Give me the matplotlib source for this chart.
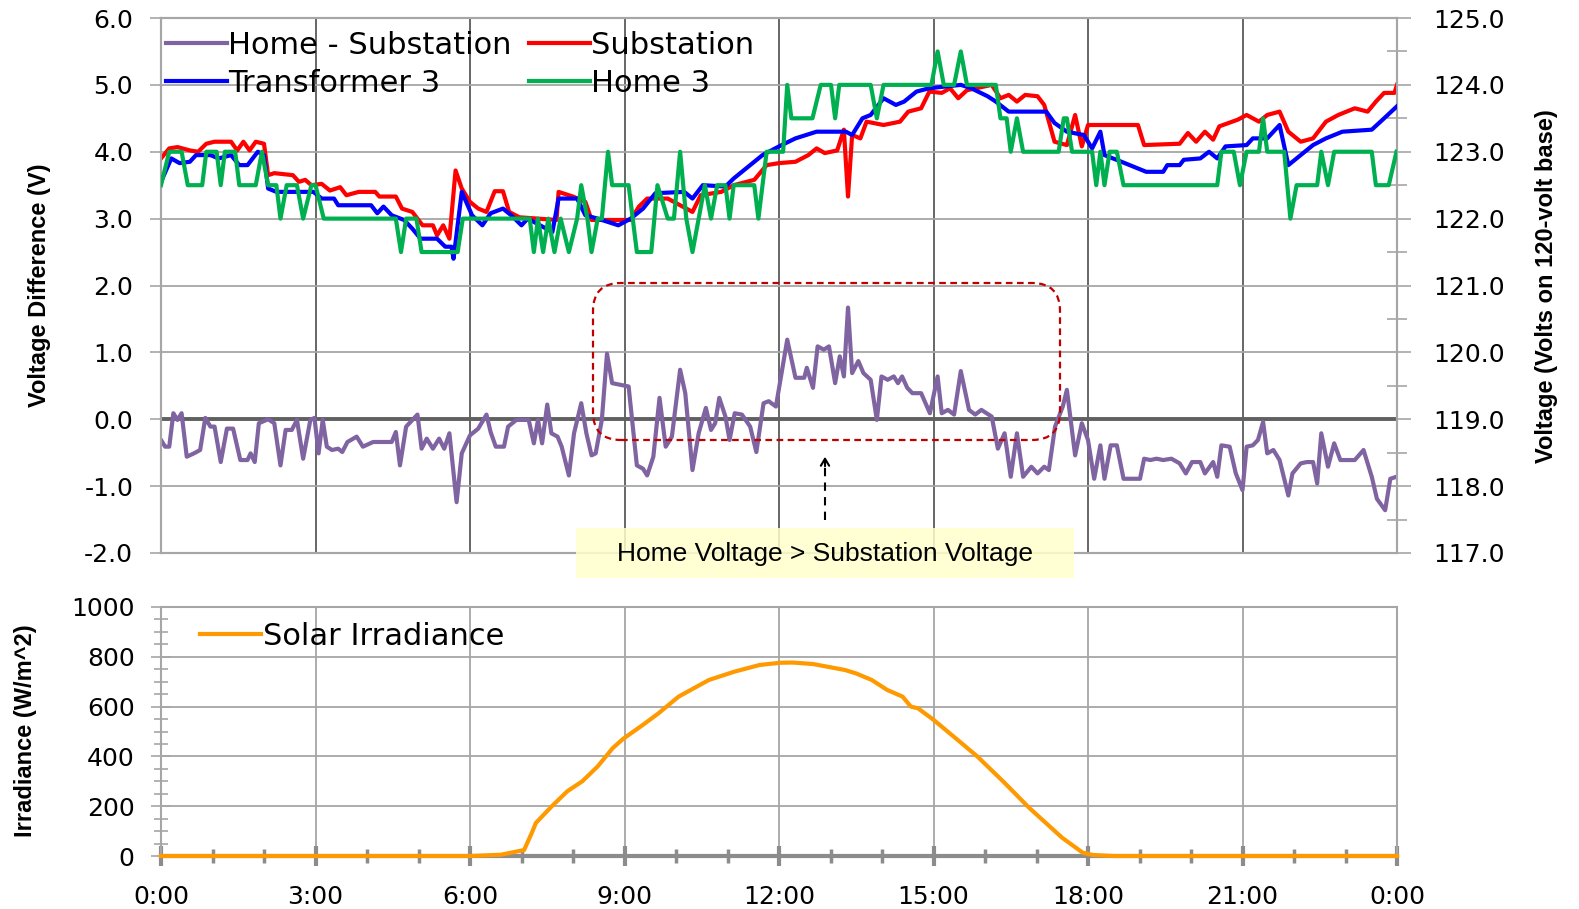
import matplotlib
matplotlib.use("Agg")
import matplotlib.pyplot as plt
from matplotlib.patches import FancyBboxPatch, FancyArrowPatch, Rectangle
from matplotlib.lines import Line2D
from matplotlib.ticker import MultipleLocator, FormatStrFormatter

# ---- data (hours since midnight) ----
sub_t = [0, 0.16, 0.32, 0.56, 0.72, 0.88, 1.04, 1.36, 1.48, 1.6, 1.72, 1.84, 2.0, 2.08, 2.2, 2.56,
         2.68, 2.8, 2.92, 3.12, 3.28, 3.48, 3.6, 3.84, 4.16, 4.24, 4.56, 4.68, 4.88, 5.08, 5.28,
         5.36, 5.48, 5.6, 5.72, 5.84, 6.0, 6.16, 6.32, 6.48, 6.64, 6.76, 6.96, 7.68, 7.72, 8.0,
         8.24, 8.36, 9.12, 9.28, 9.44, 9.84, 10.32, 10.48, 10.88, 11.12, 11.52, 11.76, 12.0,
         12.32, 12.57, 12.73, 12.89, 13.13, 13.26, 13.34, 13.42, 13.58, 13.7, 14.03, 14.35,
         14.51, 14.76, 14.92, 15.16, 15.32, 15.48, 15.65, 16.13, 16.3, 16.46, 16.62, 16.78,
         17.02, 17.15, 17.35, 17.59, 17.75, 17.88, 18.0, 18.97, 19.09, 19.78, 19.94, 20.1,
         20.27, 20.43, 20.55, 20.91, 21.08, 21.32, 21.48, 21.72, 21.89, 22.13, 22.37, 22.62,
         22.86, 23.18, 23.43, 23.59, 23.75, 23.95, 24.0]
sub_v = [122.9, 123.05, 123.07, 123.02, 123.0, 123.12, 123.15, 123.15, 123.02, 123.15, 123.02,
         123.15, 123.12, 122.65, 122.68, 122.65, 122.55, 122.58, 122.5, 122.52, 122.42, 122.47,
         122.35, 122.4, 122.4, 122.33, 122.33, 122.15, 122.1, 121.9, 121.9, 121.75, 121.9, 121.7,
         122.72, 122.45, 122.25, 122.15, 122.1, 122.41, 122.41, 122.1, 122.02, 121.98, 122.4,
         122.33, 122.25, 121.98, 121.98, 122.18, 122.3, 122.3, 122.1, 122.35, 122.4, 122.5,
         122.58, 122.8, 122.83, 122.85, 122.95, 123.05, 122.98, 123.02, 123.33, 122.33, 123.25,
         123.2, 123.45, 123.4, 123.45, 123.6, 123.65, 123.9, 123.88, 123.95, 123.8, 123.92,
         124.0, 123.8, 123.85, 123.75, 123.85, 123.83, 123.7, 123.15, 123.1, 123.55, 123.08,
         123.4, 123.4, 123.1, 123.12, 123.28, 123.15, 123.3, 123.18, 123.38, 123.48, 123.55,
         123.45, 123.55, 123.6, 123.3, 123.15, 123.2, 123.45, 123.55, 123.65, 123.6, 123.75,
         123.88, 123.88, 124.0]

tr_t = [0, 0.2, 0.36, 0.56, 0.68, 0.96, 1.12, 1.36, 1.52, 1.68, 1.88, 2.0, 2.08, 2.24, 2.96, 3.12,
        3.36, 3.44, 4.08, 4.2, 4.32, 4.48, 4.72, 4.88, 5.04, 5.36, 5.52, 5.64, 5.68, 5.84, 6.04,
        6.24, 6.4, 6.64, 6.8, 7.0, 7.12, 7.6, 7.72, 8.08, 8.24, 8.48, 8.88, 9.12, 9.36, 9.6,
        10.16, 10.32, 10.52, 10.96, 11.12, 11.36, 11.68, 12.0, 12.32, 12.73, 13.3, 13.42, 13.62,
        13.78, 14.03, 14.27, 14.43, 14.67, 14.92, 15.53, 15.73, 16.05, 16.21, 16.46, 17.19,
        17.35, 17.59, 17.92, 18.08, 18.24, 18.32, 18.65, 18.81, 19.13, 19.46, 19.54, 19.78,
        19.86, 20.18, 20.35, 20.51, 20.67, 21.08, 21.2, 21.48, 21.72, 21.89, 22.13, 22.37,
        22.62, 22.94, 23.51, 23.75, 24.0]
tr_v = [122.55, 122.9, 122.83, 122.85, 122.95, 122.95, 122.9, 122.95, 122.8, 122.8, 123.0, 122.95,
        122.45, 122.4, 122.4, 122.3, 122.3, 122.2, 122.2, 122.08, 122.18, 122.05, 121.98, 121.85,
        121.7, 121.7, 121.58, 121.58, 121.4, 122.4, 122.05, 121.9, 122.08, 122.15, 122.05, 121.9,
        122.0, 121.8, 122.3, 122.3, 122.05, 122.0, 121.9, 122.0, 122.15, 122.38, 122.4, 122.3,
        122.5, 122.48, 122.6, 122.75, 122.95, 123.08, 123.2, 123.3, 123.3, 123.25, 123.5,
        123.55, 123.8, 123.7, 123.75, 123.9, 123.95, 124.0, 123.95, 123.83, 123.75, 123.6,
        123.6, 123.43, 123.3, 123.25, 123.05, 123.3, 122.95, 122.85, 122.8, 122.7, 122.7, 122.8,
        122.8, 122.88, 122.9, 123.0, 122.9, 123.08, 123.1, 123.2, 123.2, 123.4, 122.8, 122.95,
        123.1, 123.2, 123.3, 123.33, 123.5, 123.68]

home_t = [0, 0.16, 0.4, 0.52, 0.8, 0.88, 1.08, 1.16, 1.24, 1.44, 1.52, 1.84, 1.96, 2.08, 2.24,
          2.32, 2.44, 2.64, 2.76, 2.92, 3.0, 3.16, 3.24, 4.56, 4.66, 4.76, 4.96, 5.06, 5.76,
          5.86, 7.16, 7.24, 7.32, 7.42, 7.52, 7.64, 7.76, 7.92, 8.08, 8.16, 8.28, 8.36, 8.48,
          8.56, 8.68, 8.76, 9.08, 9.24, 9.52, 9.64, 9.84, 9.96, 10.08, 10.2, 10.32, 10.56,
          10.68, 10.8, 10.96, 11.04, 11.12, 11.52, 11.6, 11.76, 12.08, 12.16, 12.24, 12.65,
          12.81, 13.01, 13.09, 13.17, 13.78, 13.9, 14.03, 14.96, 15.08, 15.2, 15.4, 15.53,
          15.65, 16.21, 16.3, 16.42, 16.5, 16.62, 16.74, 17.43, 17.53, 17.59, 17.69, 18.08,
          18.16, 18.24, 18.32, 18.42, 18.56, 18.69, 20.51, 20.59, 20.83, 20.95, 21.08, 21.32,
          21.4, 21.48, 21.81, 21.93, 22.05, 22.45, 22.53, 22.66, 22.78, 23.51, 23.59, 23.84,
          23.99]
home_v = [122.5, 123.0, 123.0, 122.5, 122.5, 123.0, 123.0, 122.5, 123.0, 123.0, 122.5, 122.5,
          123.0, 122.5, 122.5, 122.0, 122.5, 122.5, 122.0, 122.5, 122.5, 122.0, 122.0, 122.0,
          121.5, 122.0, 122.0, 121.5, 121.5, 122.0, 122.0, 121.5, 122.0, 121.5, 122.0, 121.5,
          122.0, 121.5, 122.0, 122.5, 122.0, 121.5, 122.0, 122.0, 123.0, 122.5, 122.5, 121.5,
          121.5, 122.5, 122.0, 122.0, 123.0, 122.0, 121.5, 122.5, 122.0, 122.5, 122.5, 122.0,
          122.5, 122.5, 122.0, 123.0, 123.0, 124.0, 123.5, 123.5, 124.0, 124.0, 123.5, 124.0,
          124.0, 123.5, 124.0, 124.0, 124.5, 124.0, 124.0, 124.5, 124.0, 124.0, 123.5, 123.5,
          123.0, 123.5, 123.0, 123.0, 123.5, 123.5, 123.0, 123.0, 122.5, 123.0, 122.5, 123.0,
          123.0, 122.5, 122.5, 123.0, 123.0, 122.5, 123.0, 123.0, 123.5, 123.0, 123.0, 122.0,
          122.5, 122.5, 123.0, 122.5, 123.0, 123.0, 122.5, 122.5, 123.0]

diff_t = [0, 0.08, 0.16, 0.24, 0.32, 0.4, 0.5, 0.64, 0.76, 0.86, 0.96, 1.04, 1.16, 1.28, 1.4,
          1.54, 1.68, 1.74, 1.82, 1.9, 2.08, 2.2, 2.32, 2.42, 2.54, 2.64, 2.76, 2.9, 2.98, 3.06,
          3.14, 3.22, 3.32, 3.44, 3.52, 3.62, 3.8, 3.92, 4.12, 4.48, 4.56, 4.64, 4.76, 4.98,
          5.06, 5.16, 5.28, 5.4, 5.5, 5.6, 5.74, 5.84, 6.0, 6.16, 6.32, 6.4, 6.5, 6.66, 6.74,
          6.9, 7.14, 7.24, 7.32, 7.4, 7.5, 7.58, 7.7, 7.78, 7.92, 8.02, 8.16, 8.26, 8.36, 8.44,
          8.56, 8.66, 8.76, 9.08, 9.24, 9.36, 9.44, 9.56, 9.68, 9.8, 9.92, 10.08, 10.18, 10.32,
          10.44, 10.58, 10.68, 10.76, 10.84, 10.96, 11.04, 11.14, 11.28, 11.44, 11.56, 11.7,
          11.8, 11.94, 12.16, 12.32, 12.49, 12.54, 12.66, 12.75, 12.87, 12.97, 13.09, 13.18,
          13.26, 13.34, 13.42, 13.54, 13.64, 13.78, 13.9, 13.99, 14.11, 14.23, 14.31, 14.39,
          14.49, 14.59, 14.76, 14.93, 15.08, 15.16, 15.28, 15.4, 15.53, 15.69, 15.81, 15.93,
          16.13, 16.25, 16.38, 16.5, 16.62, 16.74, 16.9, 17.02, 17.15, 17.24, 17.36, 17.51,
          17.59, 17.75, 17.88, 18.0, 18.12, 18.24, 18.32, 18.44, 18.56, 18.69, 19.01, 19.09,
          19.21, 19.33, 19.46, 19.62, 19.78, 19.9, 20.02, 20.18, 20.27, 20.43, 20.51, 20.59,
          20.75, 20.87, 21.0, 21.08, 21.2, 21.3, 21.4, 21.48, 21.6, 21.72, 21.89, 21.97, 22.13,
          22.25, 22.37, 22.45, 22.53, 22.66, 22.78, 22.9, 23.18, 23.35, 23.51, 23.61, 23.77,
          23.87, 23.99]
diff_v = [-0.31, -0.41, -0.41, 0.09, -0.01, 0.09, -0.56, -0.51, -0.46, 0.02, -0.11, -0.11, -0.64,
          -0.14, -0.14, -0.61, -0.61, -0.51, -0.64, -0.06, 0.0, -0.06, -0.69, -0.16, -0.16, -0.01,
          -0.59, -0.01, 0.02, -0.51, -0.01, -0.41, -0.46, -0.44, -0.49, -0.34, -0.26, -0.41,
          -0.34, -0.34, -0.19, -0.69, -0.11, 0.07, -0.44, -0.29, -0.44, -0.29, -0.44, -0.21,
          -1.24, -0.51, -0.24, -0.14, 0.07, -0.19, -0.41, -0.41, -0.11, -0.01, -0.01, -0.36,
          -0.01, -0.36, 0.22, -0.21, -0.26, -0.41, -0.84, -0.21, 0.24, -0.21, -0.54, -0.51,
          -0.01, 0.98, 0.54, 0.49, -0.69, -0.74, -0.84, -0.56, 0.32, -0.41, -0.26, 0.74, 0.39,
          -0.76, -0.21, 0.17, -0.16, -0.06, 0.32, 0.04, -0.31, 0.09, 0.07, -0.11, -0.49, 0.24,
          0.27, 0.19, 1.19, 0.62, 0.62, 0.77, 0.47, 1.09, 1.04, 1.09, 0.54, 0.94, 0.64, 1.67,
          0.69, 0.87, 0.69, 0.59, -0.01, 0.64, 0.59, 0.64, 0.54, 0.64, 0.47, 0.39, 0.39, 0.09,
          0.64, 0.09, 0.14, 0.07, 0.72, 0.14, 0.07, 0.14, 0.04, -0.44, -0.21, -0.86, -0.21,
          -0.86, -0.71, -0.81, -0.71, -0.76, -0.11, 0.19, 0.44, -0.54, -0.06, -0.31, -0.89,
          -0.39, -0.89, -0.39, -0.39, -0.89, -0.89, -0.59, -0.61, -0.59, -0.61, -0.59, -0.66,
          -0.81, -0.64, -0.64, -0.81, -0.64, -0.86, -0.39, -0.41, -0.81, -1.06, -0.41, -0.39,
          -0.31, -0.04, -0.51, -0.46, -0.61, -1.14, -0.81, -0.66, -0.64, -0.64, -0.96, -0.21,
          -0.71, -0.36, -0.61, -0.61, -0.46, -0.86, -1.19, -1.36, -0.89, -0.86]

sun_t = [0, 6.0, 6.6, 7.05, 7.2, 7.28, 7.59, 7.89, 8.18, 8.48, 8.77, 8.97, 9.36, 9.66, 10.05,
         10.64, 11.13, 11.62, 12.02, 12.26, 12.66, 13.28, 13.5, 13.8, 14.1, 14.4, 14.56, 14.7,
         15.0, 15.43, 15.85, 16.35, 16.86, 17.5, 17.9, 18.1, 18.5, 24.0]
sun_v = [0, 0, 5, 24, 93, 133, 200, 260, 300, 360, 433, 470, 527, 573, 640, 707, 740, 767, 776,
         777, 771, 747, 733, 707, 667, 640, 600, 593, 547, 473, 400, 300, 193, 73, 13, 4, 0, 0]

hour_ticks = list(range(0, 25, 3))
hour_labels = ["0:00", "3:00", "6:00", "9:00", "12:00", "15:00", "18:00", "21:00", "0:00"]

# ---- figure ----
W, H = 1579, 909
fig = plt.figure(figsize=(W / 100, H / 100), dpi=100)

tick_font = "DejaVu Sans"
lab_font = ["Liberation Sans", "DejaVu Sans"]
light = "#a6a6a6"
dark = "#5a5a5a"
tsize = 18
lw = 3.0

ax = fig.add_axes([161 / W, 1 - 553 / H, 1236 / W, 535 / H])
ax2 = ax.twinx()
axs = fig.add_axes([161 / W, 1 - 856 / H, 1236 / W, 249 / H])

# top panel
ax.set_xlim(0, 24)
ax.set_ylim(-2, 6)
ax2.set_ylim(117, 125)
ax.set_xticks(hour_ticks)
ax.tick_params(axis="x", length=0, labelbottom=False)
ax.yaxis.set_major_locator(MultipleLocator(1))
ax.yaxis.set_major_formatter(FormatStrFormatter("%.1f"))
ax2.yaxis.set_major_locator(MultipleLocator(1))
ax2.yaxis.set_minor_locator(MultipleLocator(0.5))
ax2.yaxis.set_major_formatter(FormatStrFormatter("%.1f"))
ax.tick_params(axis="y", direction="out", length=8, width=1.2, color=light, pad=12,
               labelsize=tsize)
ax2.tick_params(axis="y", which="major", direction="out", length=10, width=1.2, color=light,
                pad=16, labelsize=tsize)
ax2.tick_params(axis="y", which="minor", direction="inout", length=14, width=1.2, color=light)
for a in (ax, ax2):
    for s in a.spines.values():
        s.set_color(light)
        s.set_linewidth(1.5)
    for lbl in a.get_yticklabels():
        lbl.set_fontfamily(tick_font)

ax.grid(True, axis="x", color=dark, lw=1.3, zorder=0)
ax.grid(True, axis="y", color=light, lw=1.3, zorder=0)
ax.set_axisbelow(True)
ax.axhline(0, color="#606060", lw=2.8, zorder=1)

l_diff, = ax.plot(diff_t, diff_v, color="#8064A2", lw=lw, zorder=3, label="Home - Substation")
l_sub, = ax2.plot(sub_t, sub_v, color="#FF0000", lw=lw, zorder=2, label="Substation")
l_tr, = ax2.plot(tr_t, tr_v, color="#0000FF", lw=lw, zorder=3, label="Transformer 3")
l_home, = ax2.plot(home_t, home_v, color="#00B050", lw=lw, zorder=4, label="Home 3")

ax2.legend([l_diff, l_tr, l_sub, l_home],
           ["Home - Substation", "Transformer 3", "Substation", "Home 3"],
           ncol=2, loc="upper left", bbox_to_anchor=(0.0, 0.985), frameon=False,
           prop={"family": tick_font, "size": 22}, handlelength=2.0,
           handletextpad=0.05, columnspacing=0.55, labelspacing=0.3,
           borderaxespad=0.0, borderpad=0.15)

# bottom panel
axs.set_xlim(0, 24)
axs.set_ylim(0, 1000)
axs.set_xticks(hour_ticks)
axs.set_xticklabels(hour_labels)
axs.xaxis.set_minor_locator(MultipleLocator(1))
axs.yaxis.set_major_locator(MultipleLocator(200))
axs.yaxis.set_minor_locator(MultipleLocator(50))
axs.tick_params(axis="x", which="major", direction="inout", length=14, width=3, color="#8c8c8c",
                labelsize=tsize, pad=14)
axs.tick_params(axis="x", which="minor", direction="inout", length=10, width=2.5,
                color="#8c8c8c")
axs.tick_params(axis="y", which="major", direction="inout", length=14, width=1.2, color=light,
                labelsize=tsize, pad=12)
axs.tick_params(axis="y", which="minor", direction="inout", length=10, width=1.2, color=light)
for lbl in axs.get_xticklabels() + axs.get_yticklabels():
    lbl.set_fontfamily(tick_font)
for s in axs.spines.values():
    s.set_color(light)
    s.set_linewidth(1.5)
axs.spines["bottom"].set_color("#8c8c8c")
axs.spines["bottom"].set_linewidth(3)
axs.grid(True, which="major", color=light, lw=1.3)
axs.set_axisbelow(True)
axs.plot(sun_t, sun_v, color="#FF9900", lw=lw, zorder=5, clip_on=False,
         label="Solar Irradiance")
axs.legend(loc="upper left", bbox_to_anchor=(0.028, 0.96), frameon=False,
           prop={"family": tick_font, "size": 22}, handlelength=2.0, handletextpad=0.05,
           borderaxespad=0.0, borderpad=0.15)

# axis titles
fig.text(40 / W, 1 - 285 / H, "Voltage Difference (V)", rotation=90, ha="center", va="center",
         fontsize=17, fontweight="bold", family=lab_font)
fig.text(1547 / W, 1 - 286 / H, "Voltage (Volts on 120-volt base)", rotation=90, ha="center",
         va="center", fontsize=17, fontweight="bold", family=lab_font)
fig.text(26 / W, 1 - 731 / H, "Irradiance (W/m^2)", rotation=90, ha="center", va="center",
         fontsize=17, fontweight="bold", family=lab_font)

# call-out: dashed rounded box, arrow and yellow note
inch = fig.dpi_scale_trans
fig.add_artist(FancyBboxPatch((5.93, 4.69), 4.67, 1.57,
                              boxstyle="round,pad=0,rounding_size=0.28", transform=inch,
                              fill=False, ec="#C00000", lw=1.6, ls=(0, (3, 2)), zorder=6))
fig.add_artist(Line2D([8.25, 8.25], [3.89, 4.45], transform=inch, color="black", lw=1.5,
                      ls=(0, (4, 3)), zorder=6))
fig.add_artist(FancyArrowPatch((8.25, 4.40), (8.25, 4.55), transform=inch,
                               arrowstyle="->,head_length=0.25,head_width=0.15",
                               mutation_scale=20, color="black", lw=1.5, zorder=6))
fig.add_artist(Rectangle((5.76, 3.31), 4.98, 0.5, transform=inch, fc="#FFFFCC", ec="none",
                         alpha=0.85, zorder=5))
fig.text(8.25 / (W / 100), 3.555 / (H / 100), "Home Voltage > Substation Voltage",
         ha="center", va="center", fontsize=19, family=lab_font, zorder=7)

fig.savefig("out.png", dpi=100)
